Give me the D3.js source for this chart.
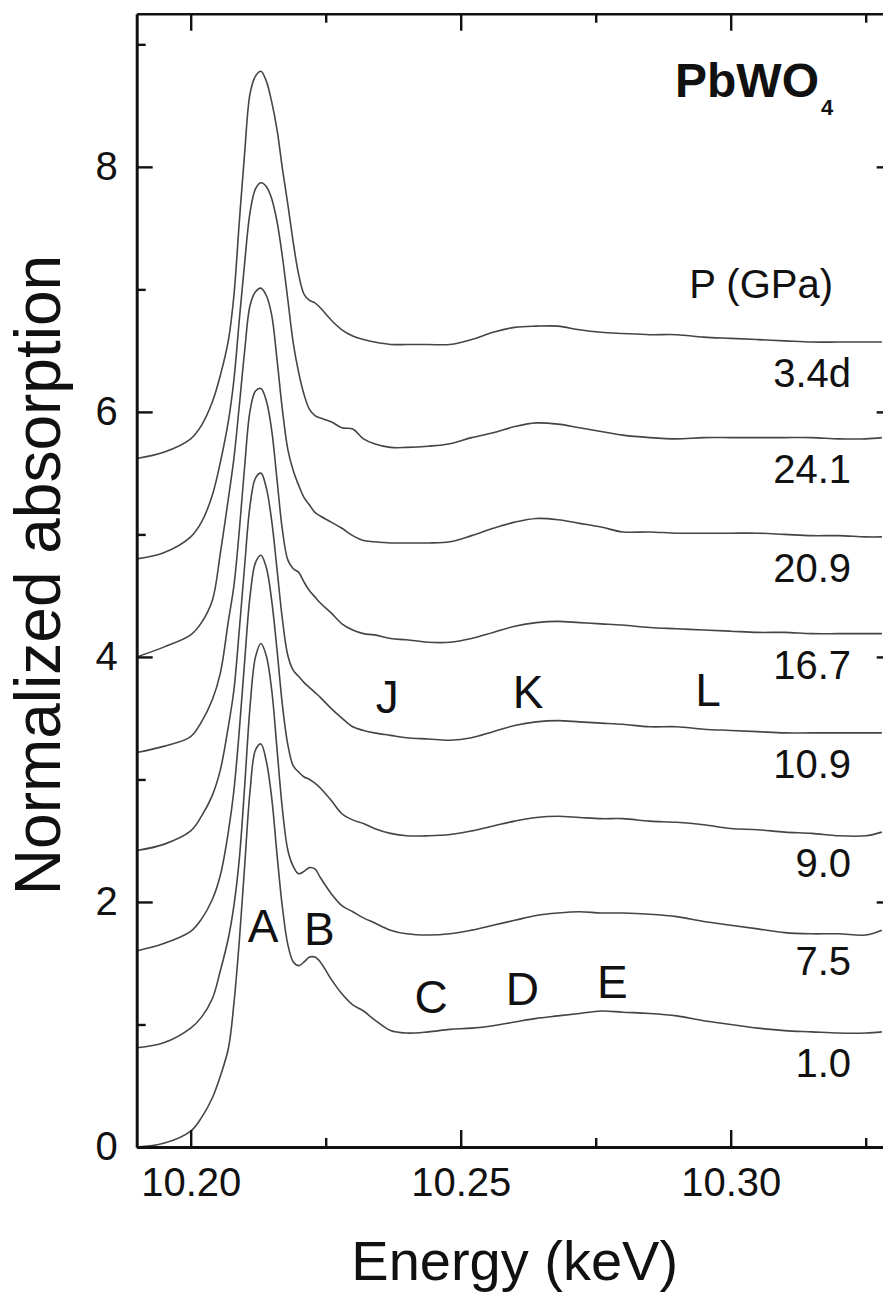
<!DOCTYPE html>
<html>
<head>
<meta charset="utf-8">
<script src="https://cdn.jsdelivr.net/npm/d3@7"></script>
<style>
  html, body { margin: 0; padding: 0; background: #fff; }
  svg { display: block; }
  text { font-family: "Liberation Sans", Arial, Helvetica, sans-serif; fill: #111; }
</style>
</head>
<body>
<svg id="chart" width="883" height="1294"></svg>
<script>
// Photon energy grid (keV) shared by all spectra
const energy = [10.190, 10.195, 10.200, 10.202, 10.204, 10.2055, 10.207, 10.208, 10.209, 10.210,
                10.211, 10.212, 10.213, 10.214, 10.215, 10.216, 10.217, 10.218, 10.219, 10.220,
                10.221, 10.222, 10.223, 10.224, 10.226, 10.228, 10.230, 10.232, 10.234, 10.237,
                10.240, 10.244, 10.248, 10.252, 10.256, 10.260, 10.264, 10.268, 10.272, 10.276,
                10.280, 10.285, 10.290, 10.295, 10.300, 10.305, 10.310, 10.315, 10.320, 10.325, 10.328];

// Normalized absorption, vertically stacked, one array per pressure
const abs_1_0 = [0.00, 0.03, 0.13, 0.24, 0.40, 0.58, 0.81, 1.17, 1.68, 2.30,
                 2.91, 3.24, 3.29, 3.15, 2.85, 2.38, 1.95, 1.65, 1.51, 1.48,
                 1.51, 1.55, 1.55, 1.51, 1.37, 1.25, 1.16, 1.11, 1.04, 0.95,
                 0.93, 0.94, 0.96, 0.97, 0.99, 1.02, 1.05, 1.07, 1.09, 1.11,
                 1.10, 1.09, 1.07, 1.03, 1.00, 0.97, 0.95, 0.94, 0.93, 0.93, 0.94];
const abs_7_5 = [0.81, 0.85, 0.97, 1.06, 1.21, 1.44, 1.71, 1.97, 2.35, 2.95,
                 3.60, 4.00, 4.11, 4.01, 3.73, 3.24, 2.75, 2.42, 2.29, 2.23,
                 2.25, 2.28, 2.27, 2.20, 2.07, 1.97, 1.92, 1.87, 1.83, 1.77,
                 1.74, 1.73, 1.74, 1.77, 1.81, 1.85, 1.89, 1.91, 1.92, 1.91,
                 1.91, 1.90, 1.88, 1.84, 1.81, 1.78, 1.75, 1.74, 1.74, 1.73, 1.77];
const abs_9_0 = [1.60, 1.66, 1.76, 1.86, 2.02, 2.22, 2.58, 2.91, 3.40, 3.97,
                 4.50, 4.77, 4.83, 4.73, 4.46, 4.05, 3.60, 3.28, 3.11, 3.06,
                 3.02, 3.00, 2.97, 2.93, 2.83, 2.72, 2.67, 2.64, 2.60, 2.56,
                 2.54, 2.54, 2.55, 2.58, 2.62, 2.66, 2.69, 2.70, 2.69, 2.68,
                 2.68, 2.66, 2.65, 2.63, 2.60, 2.59, 2.57, 2.56, 2.54, 2.54, 2.57];
const abs_10_9 = [2.42, 2.47, 2.58, 2.70, 2.87, 3.08, 3.44, 3.73, 4.22, 4.75,
                  5.24, 5.46, 5.50, 5.38, 5.11, 4.71, 4.30, 4.01, 3.89, 3.84,
                  3.79, 3.75, 3.71, 3.67, 3.58, 3.50, 3.43, 3.40, 3.38, 3.36,
                  3.34, 3.33, 3.32, 3.34, 3.39, 3.44, 3.47, 3.48, 3.47, 3.46,
                  3.45, 3.43, 3.43, 3.41, 3.40, 3.39, 3.38, 3.38, 3.38, 3.38, 3.38];
const abs_16_7 = [3.22, 3.27, 3.35, 3.47, 3.65, 3.87, 4.30, 4.58, 5.03, 5.56,
                  6.01, 6.17, 6.19, 6.09, 5.85, 5.44, 5.03, 4.79, 4.72, 4.69,
                  4.61, 4.54, 4.49, 4.44, 4.36, 4.27, 4.22, 4.19, 4.18, 4.15,
                  4.14, 4.12, 4.12, 4.15, 4.20, 4.25, 4.28, 4.29, 4.28, 4.27,
                  4.26, 4.24, 4.23, 4.22, 4.21, 4.20, 4.20, 4.19, 4.19, 4.19, 4.19];
const abs_20_9 = [4.00, 4.08, 4.18, 4.28, 4.46, 4.85, 5.30, 5.62, 6.05, 6.50,
                  6.87, 6.98, 7.01, 6.95, 6.79, 6.42, 6.01, 5.69, 5.52, 5.40,
                  5.30, 5.24, 5.18, 5.15, 5.10, 5.05, 4.99, 4.95, 4.94, 4.93,
                  4.93, 4.93, 4.94, 4.99, 5.05, 5.10, 5.13, 5.12, 5.09, 5.06,
                  5.02, 5.02, 5.01, 5.01, 5.01, 5.01, 5.00, 4.99, 4.99, 4.98, 4.98];
const abs_24_1 = [4.80, 4.85, 4.98, 5.10, 5.32, 5.59, 5.93, 6.26, 6.75, 7.22,
                  7.63, 7.82, 7.87, 7.84, 7.74, 7.55, 7.26, 6.91, 6.56, 6.32,
                  6.14, 6.02, 5.97, 5.95, 5.92, 5.87, 5.86, 5.78, 5.74, 5.71,
                  5.71, 5.72, 5.74, 5.79, 5.83, 5.88, 5.91, 5.90, 5.87, 5.84,
                  5.81, 5.79, 5.78, 5.79, 5.79, 5.79, 5.79, 5.79, 5.78, 5.78, 5.79];
const abs_3_4d = [5.62, 5.67, 5.78, 5.89, 6.08, 6.30, 6.59, 6.95, 7.55, 8.12,
                  8.60, 8.74, 8.78, 8.70, 8.53, 8.30, 7.98, 7.69, 7.38, 7.12,
                  6.96, 6.91, 6.89, 6.85, 6.75, 6.67, 6.62, 6.59, 6.57, 6.55,
                  6.55, 6.55, 6.55, 6.59, 6.65, 6.69, 6.70, 6.70, 6.67, 6.65,
                  6.64, 6.63, 6.63, 6.61, 6.60, 6.59, 6.58, 6.57, 6.57, 6.57, 6.57];

// Pressure labels (GPa), top to bottom
const pressures = ["3.4d", "24.1", "20.9", "16.7", "10.9", "9.0", "7.5", "1.0"];
const spectra = [abs_3_4d, abs_24_1, abs_20_9, abs_16_7, abs_10_9, abs_9_0, abs_7_5, abs_1_0];

// Feature letters: [label, energy (keV), absorption]
const features = [
  ["A", 10.2134, 1.67], ["B", 10.2238, 1.65], ["C", 10.2445, 1.09],
  ["D", 10.2614, 1.16], ["E", 10.2781, 1.22],
  ["J", 10.2364, 3.54], ["K", 10.2625, 3.58], ["L", 10.2958, 3.60]
];

// Axis ticks
const xMajor = [10.20, 10.25, 10.30];
const xMinor = [10.225, 10.275, 10.325];
const yMajor = [0, 2, 4, 6, 8];
const yMinor = [1, 3, 5, 7, 9];

const svg = d3.select("#chart");
const frame = { left: 136.7, right: 892.7, top: 13.7, bottom: 1147 };

const x = d3.scaleLinear().domain([10.19, 10.33]).range([frame.left, frame.right]);
const y = d3.scaleLinear().domain([0, 9.25]).range([frame.bottom, frame.top]);

// Clip the spectra to the frame
svg.append("clipPath").attr("id", "plotClip")
  .append("rect").attr("x", frame.left).attr("y", frame.top)
  .attr("width", frame.right - frame.left).attr("height", frame.bottom - frame.top);

const line = d3.line()
  .x((d, i) => x(energy[i]))
  .y(d => y(d))
  .curve(d3.curveCatmullRom.alpha(0.5));

svg.append("g").attr("clip-path", "url(#plotClip)")
  .selectAll("path").data(spectra).join("path")
  .attr("d", line)
  .attr("fill", "none")
  .attr("stroke", "#454545")
  .attr("stroke-width", 1.6)
  .attr("stroke-linejoin", "round");

// Axes: ticks point inward on all four sides
function styleAxis(g, width) {
  g.selectAll(".domain").attr("stroke", "#111").attr("stroke-width", width);
  g.selectAll(".tick line").attr("stroke", "#111").attr("stroke-width", 2.4);
  g.selectAll(".tick text").attr("font-size", 40).attr("fill", "#111");
}

// bottom
svg.append("g").attr("transform", `translate(0,${frame.bottom})`)
  .call(d3.axisBottom(x).tickValues(xMajor).tickFormat(d3.format(".2f"))
    .tickSize(-17).tickSizeOuter(0).tickPadding(21))
  .call(g => styleAxis(g, 3));
svg.append("g").attr("transform", `translate(0,${frame.bottom})`)
  .call(d3.axisBottom(x).tickValues(xMinor).tickFormat("").tickSize(-9).tickSizeOuter(0))
  .call(g => { g.select(".domain").remove(); styleAxis(g, 3); });

// top
svg.append("g").attr("transform", `translate(0,${frame.top})`)
  .call(d3.axisTop(x).tickValues(xMajor).tickFormat("").tickSize(-17).tickSizeOuter(0))
  .call(g => styleAxis(g, 2.4));
svg.append("g").attr("transform", `translate(0,${frame.top})`)
  .call(d3.axisTop(x).tickValues(xMinor).tickFormat("").tickSize(-9).tickSizeOuter(0))
  .call(g => { g.select(".domain").remove(); styleAxis(g, 2.4); });

// left
svg.append("g").attr("transform", `translate(${frame.left},0)`)
  .call(d3.axisLeft(y).tickValues(yMajor).tickFormat(d3.format("d"))
    .tickSize(-16).tickSizeOuter(0).tickPadding(19))
  .call(g => styleAxis(g, 3));
svg.append("g").attr("transform", `translate(${frame.left},0)`)
  .call(d3.axisLeft(y).tickValues(yMinor).tickFormat("").tickSize(-9).tickSizeOuter(0))
  .call(g => { g.select(".domain").remove(); styleAxis(g, 3); });

// right
svg.append("g").attr("transform", `translate(${frame.right},0)`)
  .call(d3.axisRight(y).tickValues(yMajor).tickFormat("").tickSize(-16).tickSizeOuter(0))
  .call(g => styleAxis(g, 3));
svg.append("g").attr("transform", `translate(${frame.right},0)`)
  .call(d3.axisRight(y).tickValues(yMinor).tickFormat("").tickSize(-9).tickSizeOuter(0))
  .call(g => { g.select(".domain").remove(); styleAxis(g, 3); });

// Axis titles
svg.append("text")
  .attr("x", (frame.left + frame.right) / 2).attr("y", 1280)
  .attr("text-anchor", "middle").attr("font-size", 56)
  .text("Energy (keV)");
svg.append("text")
  .attr("transform", "translate(60,575) rotate(-90)")
  .attr("text-anchor", "middle").attr("font-size", 64)
  .text("Normalized absorption");

// Compound name
const title = svg.append("text").attr("x", 675).attr("y", 97)
  .attr("font-size", 48).attr("font-weight", "bold");
title.append("tspan").text("PbWO");
title.append("tspan").attr("font-size", 22).attr("dy", 18).attr("dx", 2).text("4");

// Pressure header and per-spectrum labels
svg.append("text").attr("x", 833).attr("y", 298)
  .attr("text-anchor", "end").attr("font-size", 40).text("P (GPa)");

svg.append("g").selectAll("text").data(pressures).join("text")
  .attr("x", 851)
  .attr("y", (d, i) => y(spectra[i][spectra[i].length - 1]) + 45)
  .attr("text-anchor", "end").attr("font-size", 40)
  .text(d => d);

// Feature letters
svg.append("g").selectAll("text").data(features).join("text")
  .attr("x", d => x(d[1])).attr("y", d => y(d[2]))
  .attr("text-anchor", "middle").attr("font-size", 46)
  .text(d => d[0]);
</script>
</body>
</html>
